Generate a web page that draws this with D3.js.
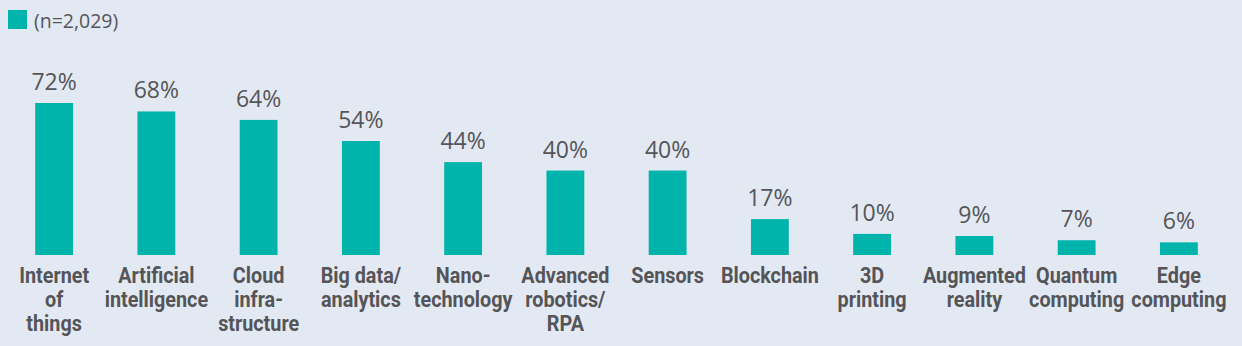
<!DOCTYPE html>
<html>
<head>
<meta charset="utf-8">
<script src="https://cdn.jsdelivr.net/npm/d3@7"></script>
<style>
  body { margin: 0; background: #e3e9f3; }
  svg { display: block; }
</style>
</head>
<body>
<svg width="1242" height="346"></svg>
<script>
var categories = [
    ["Internet", "of", "things"],
    ["Artificial", "intelligence"],
    ["Cloud", "infra-", "structure"],
    ["Big data/", "analytics"],
    ["Nano-", "technology"],
    ["Advanced", "robotics/", "RPA"],
    ["Sensors"],
    ["Blockchain"],
    ["3D", "printing"],
    ["Augmented", "reality"],
    ["Quantum", "computing"],
    ["Edge", "computing"]
];
var values = [72, 68, 64, 54, 44, 40, 40, 17, 10, 9, 7, 6];
var legendLabel = "(n=2,029)";

var svg = d3.select("svg"),
    width = +svg.attr("width"),
    height = +svg.attr("height");

var barColor = "#00b3ab",
    textColor = "#555558",
    baseline = 255;

var x = d3.scaleBand()
    .domain(d3.range(categories.length))
    .range([3, 1230])
    .paddingInner(0.63)
    .paddingOuter(0.315);

var y = d3.scaleLinear()
    .domain([0, 72])
    .range([baseline, 103]);

// legend
svg.append("rect")
    .attr("x", 8)
    .attr("y", 10)
    .attr("width", 19)
    .attr("height", 19)
    .attr("fill", barColor);

svg.append("text")
    .attr("x", 34)
    .attr("y", 28)
    .attr("font-family", "'Open Sans', sans-serif")
    .attr("font-size", "19.5px")
    .attr("fill", textColor)
    .text(legendLabel);

// bars
svg.append("g")
    .selectAll("rect")
    .data(values)
    .enter().append("rect")
    .attr("x", function (d, i) { return x(i); })
    .attr("y", function (d) { return y(d); })
    .attr("width", x.bandwidth())
    .attr("height", function (d) { return baseline - y(d); })
    .attr("fill", barColor);

// value labels
svg.append("g")
    .selectAll("text")
    .data(values)
    .enter().append("text")
    .attr("x", function (d, i) { return x(i) + x.bandwidth() / 2; })
    .attr("y", function (d) { return y(d) - 13; })
    .attr("text-anchor", "middle")
    .attr("font-family", "'Open Sans', sans-serif")
    .attr("font-size", "23px")
    .attr("fill", textColor)
    .text(function (d) { return d + "%"; });

// category labels (condensed look via horizontal squeeze)
var cat = svg.append("g")
    .selectAll("text")
    .data(categories)
    .enter().append("text")
    .attr("transform", function (d, i) {
        return "translate(" + (x(i) + x.bandwidth() / 2) + "," + (baseline + 28) + ") scale(0.9,1)";
    })
    .attr("text-anchor", "middle")
    .attr("font-family", "Roboto, sans-serif")
    .attr("font-weight", "bold")
    .attr("font-size", "22px")
    .attr("fill", textColor);

cat.selectAll("tspan")
    .data(function (d) { return d; })
    .enter().append("tspan")
    .attr("x", 0)
    .attr("dy", function (d, i) { return i === 0 ? 0 : 24; })
    .text(function (d) { return d; });
</script>
</body>
</html>
